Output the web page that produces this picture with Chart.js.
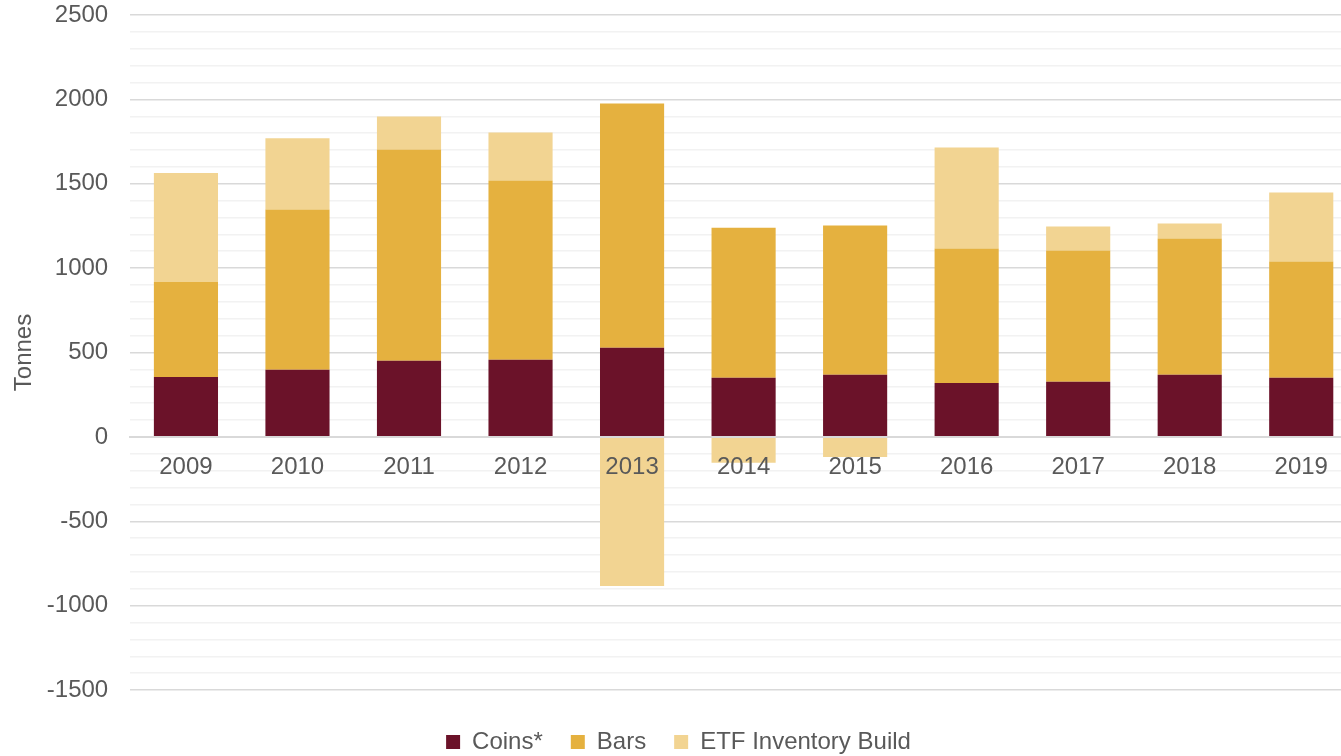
<!DOCTYPE html>
<html>
<head>
<meta charset="utf-8">
<script src="https://cdn.jsdelivr.net/npm/chart.js@4"></script>
<style>
    html, body { margin: 0; padding: 0; background: #fff; overflow: hidden; }
    #wrap { width: 1368px; height: 756px; }
</style>
</head>
<body>
<div id="wrap"><canvas id="chart" width="1368" height="756"></canvas></div>
<script>
// years on the category axis
const years = ['2009', '2010', '2011', '2012', '2013', '2014', '2015', '2016', '2017', '2018', '2019'];

// tonnes
const coins = [355, 398, 451, 457, 528, 350, 368, 320, 326, 368, 350];
const bars = [563, 949, 1252, 1062, 1448, 890, 884, 796, 778, 807, 689];
const etfBuild = [646, 422, 196, 285, -884, -154, -119, 599, 142, 89, 409];

const yMin = -1500;
const yMax = 2500;
const yStep = 100;
const yLabelStep = 500;

const colors = {
    coins: '#6b1229',
    bars: '#e5b13f',
    etf: '#f2d492',
    text: '#595959',
    major: '#d9d9d9',
    minor: '#f2f2f2',
};

const font = { family: "'Liberation Sans', Arial, sans-serif", size: 24 };

function dataset(label, data, color) {
    return {
        label,
        data,
        backgroundColor: color,
        borderWidth: 0,
        categoryPercentage: 1,
        barPercentage: 0.575,
    };
}

new Chart(document.getElementById('chart'), {
    type: 'bar',
    data: {
        labels: years,
        datasets: [
            dataset('Coins*', coins, colors.coins),
            dataset('Bars', bars, colors.bars),
            dataset('ETF Inventory Build', etfBuild, colors.etf),
        ],
    },
    options: {
        responsive: false,
        animation: false,
        layout: { padding: { top: 15, right: 11, bottom: -8, left: 0 } },
        scales: {
            x: {
                stacked: true,
                position: { y: 0 },
                grid: { display: false, drawTicks: false },
                // zero line and year labels sit on top of the bars
                border: { color: colors.major, width: 2, z: 1 },
                ticks: { color: colors.text, font, padding: 16, maxRotation: 0, z: 1 },
            },
            y: {
                stacked: true,
                min: yMin,
                max: yMax,
                grid: {
                    // invisible tick marks give the gap between labels and plot
                    drawTicks: true,
                    tickLength: 22,
                    tickColor: 'rgba(0,0,0,0)',
                    color: c => (c.tick.value % yLabelStep === 0 ? colors.major : colors.minor),
                    lineWidth: 1.5,
                },
                border: { display: false },
                ticks: {
                    stepSize: yStep,
                    autoSkip: false,
                    color: colors.text,
                    font,
                    padding: 0,
                    callback: v => (v % yLabelStep === 0 ? v : ''),
                },
                title: {
                    display: true,
                    text: 'Tonnes',
                    color: colors.text,
                    font,
                    padding: { top: 10, bottom: 8 },
                },
            },
        },
        plugins: {
            legend: {
                position: 'bottom',
                title: { display: true, text: ' ', font: { size: 10, lineHeight: 1 }, padding: 1 },
                labels: {
                    color: colors.text,
                    font,
                    boxWidth: 14,
                    boxHeight: 14,
                    padding: 28,
                },
            },
            tooltip: { enabled: false },
        },
    },
});
</script>
</body>
</html>
